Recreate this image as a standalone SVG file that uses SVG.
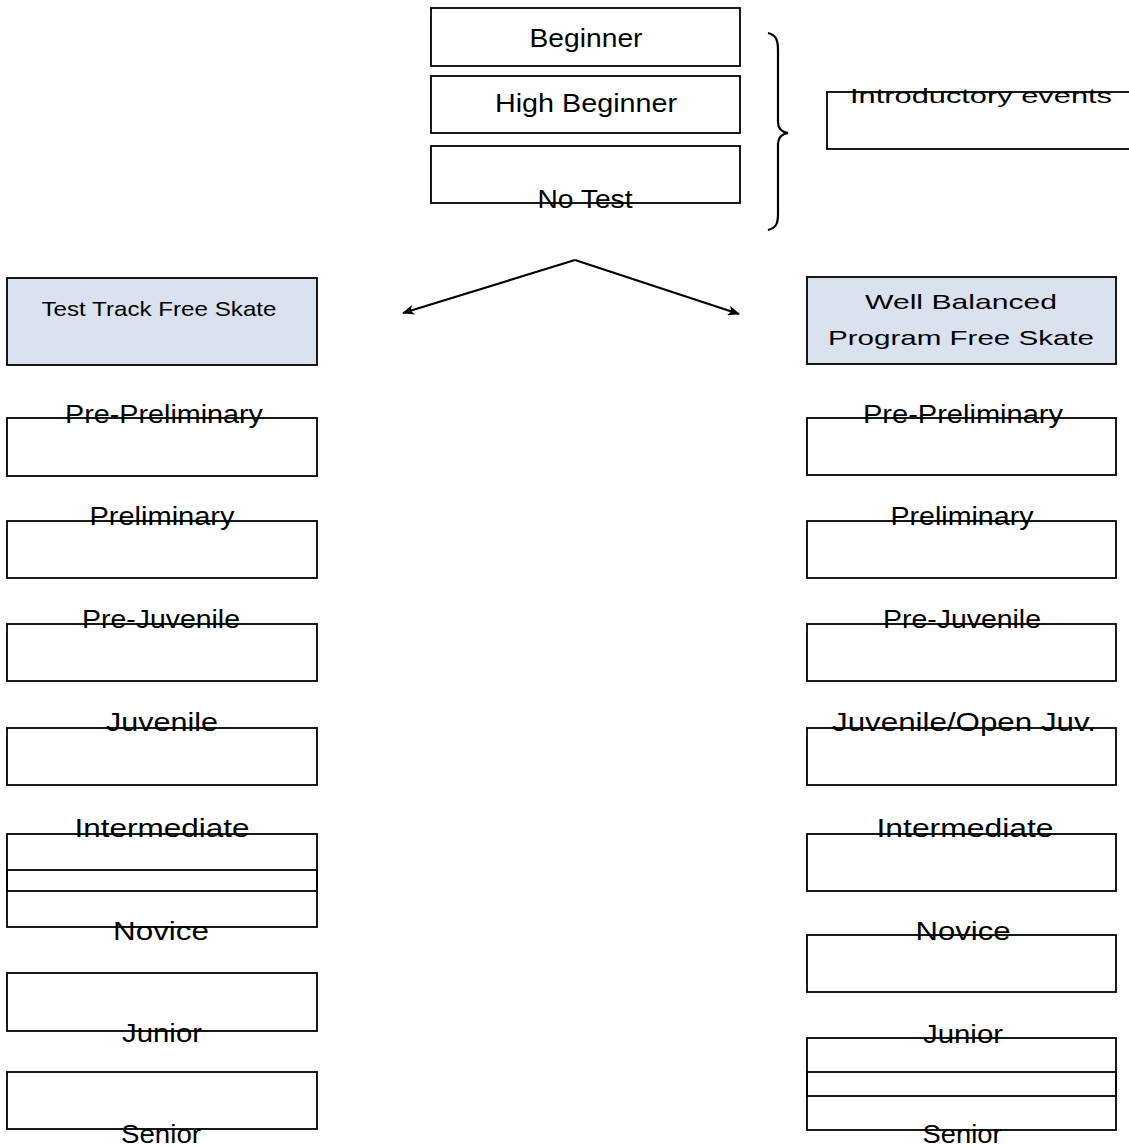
<svg xmlns="http://www.w3.org/2000/svg" width="1129" height="1147" viewBox="0 0 1129 1147">
<defs>
<style>
.box{fill:#ffffff;stroke:#000000;stroke-width:1.8}
.hdr{fill:#dbe2ef;stroke:#000000;stroke-width:1.8}
.t{font-family:"Liberation Sans",Arial,sans-serif;font-size:25px;fill:#000000;text-anchor:middle}
.s{font-family:"Liberation Sans",Arial,sans-serif;font-size:21px;fill:#000000;text-anchor:middle}
.conn{stroke:#000000;stroke-width:2.2;fill:none}
</style>
<marker id="ah" viewBox="0 0 12 10" refX="11" refY="5" markerWidth="12" markerHeight="10" markerUnits="userSpaceOnUse" orient="auto">
<path d="M0,0 L12,5 L0,10 L3,5 Z" fill="#000000"/>
</marker>
</defs>
<rect width="1129" height="1147" fill="#ffffff"/>

<g id="beginner"><rect class="box" x="431" y="8" width="309" height="58"/><text class="t" x="586" y="47" textLength="113" lengthAdjust="spacingAndGlyphs">Beginner</text></g>
<g id="high-beginner"><rect class="box" x="431" y="76" width="309" height="57"/><text class="t" x="586" y="112" textLength="182" lengthAdjust="spacingAndGlyphs">High Beginner</text></g>
<g id="no-test"><rect class="box" x="431" y="146" width="309" height="57"/><text class="t" x="585" y="208" textLength="95" lengthAdjust="spacingAndGlyphs">No Test</text></g>

<g id="brace"><path class="conn" stroke-width="1.6" d="M768,33 C776,35 778,40 778,50 L778,122 C778,129 782,132 788,133 C782,134 778,137 778,144 L778,214 C778,224 776,228 768,230"/></g>

<g id="introductory"><rect class="box" x="827" y="92" width="320" height="57"/><text class="s" x="981" y="103" textLength="262" lengthAdjust="spacingAndGlyphs">Introductory events</text></g>

<g id="connectors">
<line class="conn" x1="575" y1="260" x2="403" y2="313" marker-end="url(#ah)"/>
<line class="conn" x1="575" y1="260" x2="739" y2="314" marker-end="url(#ah)"/>
</g>

<g id="test-track"><rect class="hdr" x="7" y="278" width="310" height="87"/><text class="s" x="159" y="316" font-size="22" textLength="235" lengthAdjust="spacingAndGlyphs">Test Track Free Skate</text></g>
<g id="well-balanced"><rect class="hdr" x="807" y="277" width="309" height="87"/><text class="s" x="961" y="309" textLength="192" lengthAdjust="spacingAndGlyphs">Well Balanced</text><text class="s" x="961" y="345" textLength="266" lengthAdjust="spacingAndGlyphs">Program Free Skate</text></g>

<g id="l-pre-preliminary"><rect class="box" x="7" y="418" width="310" height="58"/><text class="t" x="164" y="423" textLength="198" lengthAdjust="spacingAndGlyphs">Pre-Preliminary</text></g>
<g id="l-preliminary"><rect class="box" x="7" y="521" width="310" height="57"/><text class="t" x="162" y="525" textLength="145" lengthAdjust="spacingAndGlyphs">Preliminary</text></g>
<g id="l-pre-juvenile"><rect class="box" x="7" y="624" width="310" height="57"/><text class="t" x="161" y="628" textLength="158" lengthAdjust="spacingAndGlyphs">Pre-Juvenile</text></g>
<g id="l-juvenile"><rect class="box" x="7" y="728" width="310" height="57"/><text class="t" x="162" y="731" textLength="112" lengthAdjust="spacingAndGlyphs">Juvenile</text></g>
<g id="l-intermediate"><rect class="box" x="7" y="834" width="310" height="57"/><text class="t" x="162" y="837" textLength="175" lengthAdjust="spacingAndGlyphs">Intermediate</text></g>
<g id="l-novice"><rect class="box" x="7" y="870" width="310" height="57" fill="none" style="fill:none"/><text class="t" x="161" y="940" textLength="96" lengthAdjust="spacingAndGlyphs">Novice</text></g>
<g id="l-junior"><rect class="box" x="7" y="973" width="310" height="58"/><text class="t" x="162" y="1042" textLength="80" lengthAdjust="spacingAndGlyphs">Junior</text></g>
<g id="l-senior"><rect class="box" x="7" y="1072" width="310" height="57"/><text class="t" x="161" y="1143" textLength="80" lengthAdjust="spacingAndGlyphs">Senior</text></g>

<g id="r-pre-preliminary"><rect class="box" x="807" y="418" width="309" height="57"/><text class="t" x="963" y="423" textLength="200" lengthAdjust="spacingAndGlyphs">Pre-Preliminary</text></g>
<g id="r-preliminary"><rect class="box" x="807" y="521" width="309" height="57"/><text class="t" x="962" y="525" textLength="143" lengthAdjust="spacingAndGlyphs">Preliminary</text></g>
<g id="r-pre-juvenile"><rect class="box" x="807" y="624" width="309" height="57"/><text class="t" x="962" y="628" textLength="158" lengthAdjust="spacingAndGlyphs">Pre-Juvenile</text></g>
<g id="r-juvenile-open"><rect class="box" x="807" y="728" width="309" height="57"/><text class="t" x="964" y="731" textLength="264" lengthAdjust="spacingAndGlyphs">Juvenile/Open Juv.</text></g>
<g id="r-intermediate"><rect class="box" x="807" y="834" width="309" height="57"/><text class="t" x="965" y="837" textLength="177" lengthAdjust="spacingAndGlyphs">Intermediate</text></g>
<g id="r-novice"><rect class="box" x="807" y="935" width="309" height="57"/><text class="t" x="963" y="940" textLength="95" lengthAdjust="spacingAndGlyphs">Novice</text></g>
<g id="r-junior"><rect class="box" x="807" y="1038" width="309" height="58"/><text class="t" x="963" y="1043" textLength="80" lengthAdjust="spacingAndGlyphs">Junior</text></g>
<g id="r-senior"><rect class="box" x="807" y="1072" width="309" height="58" style="fill:none"/><text class="t" x="962" y="1143" textLength="79" lengthAdjust="spacingAndGlyphs">Senior</text></g>
</svg>
